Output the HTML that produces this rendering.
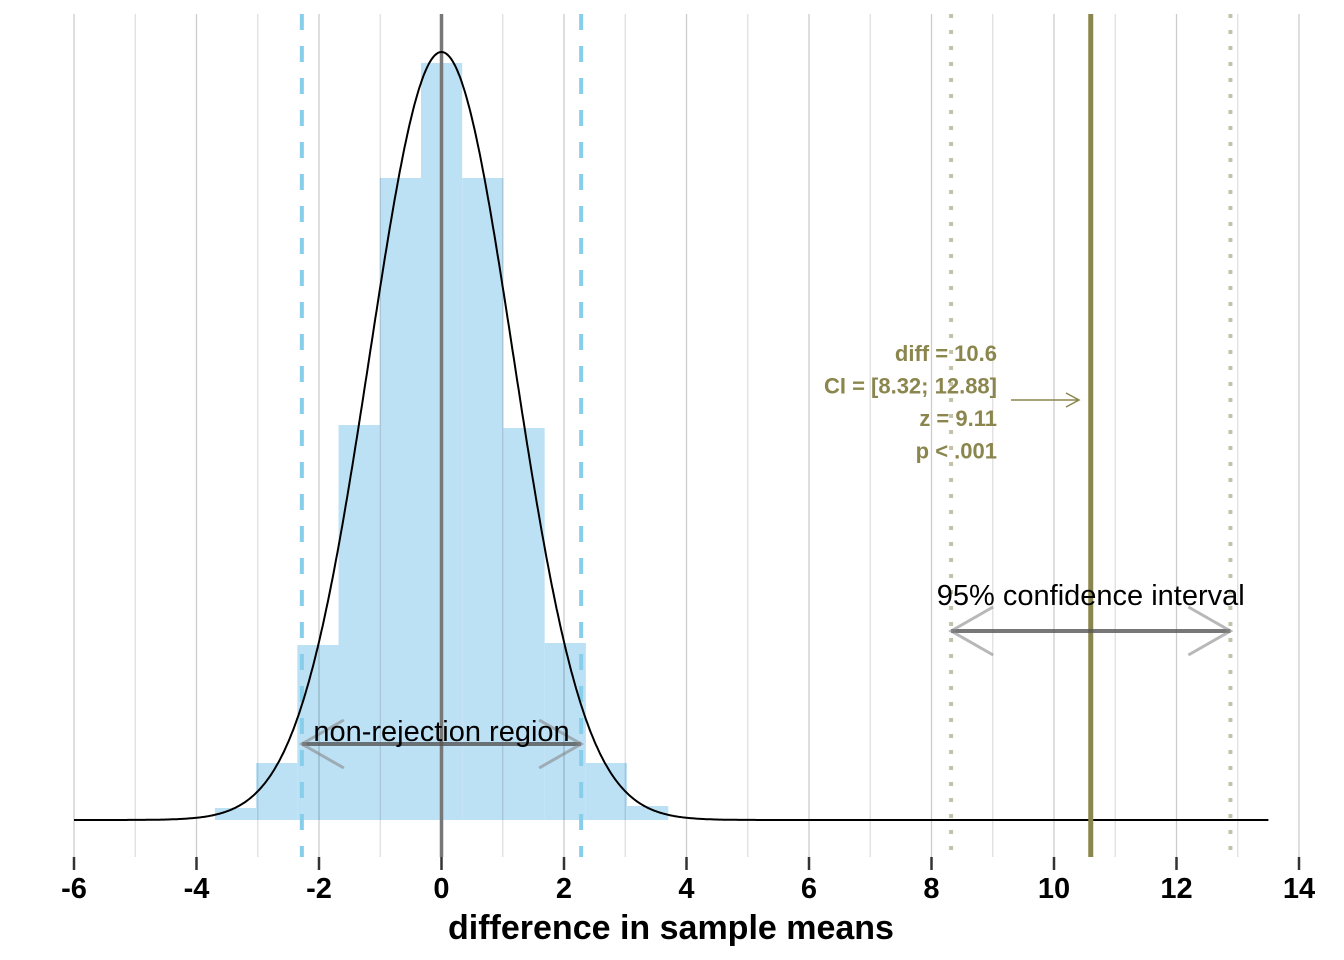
<!DOCTYPE html>
<html><head><meta charset="utf-8"><style>
body{margin:0;background:#fff}
svg{display:block;font-family:"Liberation Sans",Arial,sans-serif}
</style></head><body>
<svg id="chart" width="1344" height="960"></svg>
<script>
const binStart = -3.70;
const binWidth = 0.673;
const binHeights = [12, 57, 175, 395, 642, 757, 642, 392, 177, 57, 14];
const curveMean = 0;
const curveSd = 1.17;
const curvePeak = 768;
const xTicks = [-6,-4,-2,0,2,4,6,8,10,12,14];
const critLow = -2.28, critHigh = 2.28;
const diffVal = 10.6, ciLow = 8.32, ciHigh = 12.88;
const annotLines = ["diff = 10.6","CI = [8.32; 12.88]","z = 9.11","p < .001"];

const NS="http://www.w3.org/2000/svg";
const svg=document.getElementById('chart');
const X=v=>441.5+v*61.25;
const Y=h=>820-h;
function mk(t,a,p){const e=document.createElementNS(NS,t);for(const k in a)e.setAttribute(k,a[k]);(p||svg).appendChild(e);return e;}

const gb=mk('g',{});


binHeights.forEach((h,i)=>{
  const x0=X(binStart+i*binWidth),x1=X(binStart+(i+1)*binWidth);
  const r=mk('rect',{x:x0,y:Y(h),width:x1-x0,height:h,fill:'#bce1f5'},gb);
  
  
});
for(let v=-6;v<=14;v++){
  const l=mk('line',{x1:X(v),x2:X(v),y1:14,y2:857,stroke:'rgba(0,0,0,'+(v%2?0.13:0.2)+')','stroke-width':1.3});
  
  
}
xTicks.forEach(v=>{
  const t=mk('line',{x1:X(v),x2:X(v),y1:857,y2:870,stroke:'#333','stroke-width':2.5});
  
  
  const tx=mk('text',{x:X(v),y:898,'text-anchor':'middle','font-size':29,'font-weight':'bold',fill:'#000'});
  tx.textContent=v;
  
  
});
const xt=mk('text',{x:671,y:939,'text-anchor':'middle','font-size':34,'font-weight':'bold'});
xt.textContent='difference in sample means';


[critLow,critHigh].forEach(v=>{
  const l=mk('line',{x1:X(v),x2:X(v),y1:14,y2:857,stroke:'#87ceeb','stroke-width':4,'stroke-dasharray':'16,16'});
  
  
});
const zl=mk('line',{x1:X(0),x2:X(0),y1:14,y2:857,stroke:'#777','stroke-width':3.5});


let d='';
for(let v=-6;v<=13.5;v+=0.02){
  const h=curvePeak*Math.exp(-0.5*((v-curveMean)/curveSd)**2);
  d+=(d?'L':'M')+X(v).toFixed(1)+','+Y(h).toFixed(1);
}
const cv=mk('path',{d:d,fill:'none',stroke:'#000','stroke-width':2});


[ciLow,ciHigh].forEach(v=>{
  const l=mk('line',{x1:X(v),x2:X(v),y1:14,y2:857,stroke:'#c4c3a8','stroke-width':4,'stroke-dasharray':'4,12'});
  
  
});
const dl=mk('line',{x1:X(diffVal),x2:X(diffVal),y1:14,y2:857,stroke:'#8b864e','stroke-width':5});


annotLines.forEach((s,i)=>{
  const t=mk('text',{x:997,y:361+i*32.5,'text-anchor':'end','font-size':22,'font-weight':'bold',fill:'#8b864e'});
  t.textContent=s;
  
  
});
const ar=mk('path',{d:'M1011,400H1079M1066,393L1079,400L1066,407',fill:'none',stroke:'#8b864e','stroke-width':1.5});


function dbl(a,b,y,name){
  const g=mk('g',{});
  
  
  mk('line',{x1:X(a),x2:X(b),y1:y,y2:y,stroke:'#555','stroke-width':4,'stroke-opacity':0.8},g);
  mk('path',{d:`M${X(a)+42},${y-24}L${X(a)},${y}L${X(a)+42},${y+24}M${X(b)-42},${y-24}L${X(b)},${y}L${X(b)-42},${y+24}`,fill:'none',stroke:'#888','stroke-width':3,'stroke-opacity':0.6},g);
}
dbl(ciLow,ciHigh,631,'ci-arrow');
dbl(critLow,critHigh,744,'non-rejection-arrow');
const t1=mk('text',{x:X((ciLow+ciHigh)/2),y:605,'text-anchor':'middle','font-size':29});
t1.textContent='95% confidence interval';


const t2=mk('text',{x:X(0),y:741,'text-anchor':'middle','font-size':29});
t2.textContent='non-rejection region';


</script>
</body></html>
